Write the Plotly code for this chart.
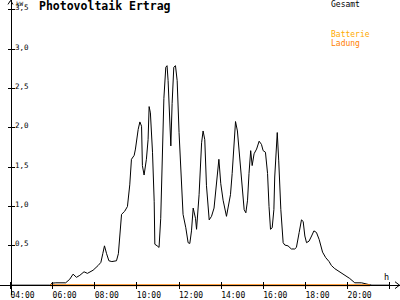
import plotly.graph_objects as go

# Gesamt (kW) over time of day (hours)
hours = [4.0, 5.87, 5.96, 6.15, 6.62, 6.81, 6.97, 7.13, 7.29, 7.49, 7.65, 7.92, 8.16, 8.29, 8.38, 8.46,
         8.56, 8.67, 8.81, 9.03, 9.12, 9.19, 9.27, 9.42, 9.55, 9.66, 9.74, 9.87, 9.93, 10.06, 10.14,
         10.22, 10.26, 10.34, 10.45, 10.53, 10.58, 10.64, 10.74, 10.82, 10.85, 10.96, 11.05, 11.13,
         11.20, 11.28, 11.37, 11.43, 11.48, 11.56, 11.61, 11.67, 11.75, 11.83, 11.91, 12.00, 12.12,
         12.19, 12.32, 12.43, 12.51, 12.59, 12.67, 12.78, 12.83, 12.95, 13.07, 13.14, 13.22, 13.30,
         13.43, 13.54, 13.66, 13.78, 13.89, 13.98, 14.09, 14.25, 14.33, 14.44, 14.52, 14.60, 14.68,
         14.77, 14.85, 14.96, 15.09, 15.17, 15.25, 15.32, 15.40, 15.47, 15.56, 15.68, 15.80, 15.91,
         15.99, 16.10, 16.20, 16.27, 16.34, 16.42, 16.50, 16.54, 16.62, 16.66, 16.73, 16.83, 16.94,
         17.02, 17.17, 17.33, 17.49, 17.57, 17.70, 17.81, 17.89, 17.97, 18.05, 18.17, 18.29, 18.40,
         18.52, 18.65, 18.81, 18.96, 19.12, 19.23, 19.39, 19.63, 19.86, 20.10, 20.34, 20.66, 20.97,
         21.15, 22.0]
gesamt = [0, 0, 0.025, 0.03, 0.03, 0.075, 0.14, 0.10, 0.125, 0.17, 0.15, 0.19, 0.25, 0.29, 0.40, 0.50,
          0.40, 0.31, 0.30, 0.31, 0.40, 0.625, 0.90, 0.94, 1.0, 1.275, 1.60, 1.65, 1.73, 1.98, 2.075,
          2.02, 1.52, 1.40, 1.60, 1.85, 2.27, 2.19, 1.69, 1.06, 0.52, 0.50, 0.48, 0.85,
          1.69, 2.375, 2.77, 2.79, 2.60, 1.94, 1.77, 2.31, 2.77, 2.79, 2.60, 1.94, 1.27,
          0.90, 0.73, 0.54, 0.53, 0.69, 0.98, 0.85, 0.71, 1.15, 1.81, 1.96, 1.85, 1.27,
          0.83, 0.875, 0.98, 1.31, 1.60, 1.29, 1.08, 0.875, 1.0, 1.15, 1.42, 1.83, 2.08,
          1.96, 1.71, 1.29, 0.96, 0.92, 1.08, 1.42, 1.71, 1.52, 1.67, 1.73, 1.83, 1.79,
          1.71, 1.69, 1.42, 1.0, 0.71, 0.73, 0.96, 1.375, 1.83, 1.94, 1.58, 0.96, 0.54,
          0.51, 0.50, 0.46, 0.46, 0.48, 0.67, 0.83, 0.81, 0.625, 0.54, 0.56, 0.625, 0.69,
          0.67, 0.58, 0.42, 0.35, 0.30, 0.25, 0.21, 0.17, 0.125, 0.085, 0.03, 0.03, 0.01,
          0, 0]

# Batterie Ladung (kW)
batt_hours = [5.875, 21.06]
batt_kw = [0, 0]

x_ticks = [4, 6, 8, 10, 12, 14, 16, 18, 20, 22]
x_ticktext = ["04:00", "06:00", "08:00", "10:00", "12:00", "14:00", "16:00", "18:00", "20:00", "22:00"]
y_ticks = [0.5, 1.0, 1.5, 2.0, 2.5, 3.0, 3.5]

W, H = 400, 300
PX_PER_H = 21.07
X0_PX = 10.5
xr = [4 - X0_PX / PX_PER_H, 4 + (W - X0_PX) / PX_PER_H]
yr = [-10 / 80, 290 / 80]
FONT = "DejaVu Sans Mono"
BLACK = "#000000"
ORANGE = "#FF8000"

fig = go.Figure()
fig.add_trace(go.Scatter(x=hours, y=gesamt, mode="lines",
                         line=dict(color=BLACK, width=1), name="Gesamt",
                         hoverinfo="skip"))
fig.add_trace(go.Scatter(x=batt_hours, y=batt_kw, mode="lines",
                         line=dict(color=ORANGE, width=2), name="Batterie Ladung",
                         xaxis="x2", yaxis="y2", hoverinfo="skip"))

ax_common = dict(showgrid=False, zeroline=False, fixedrange=True)
xpos = 1 - 290 / H
ypos = X0_PX / W

def px(x, y):
    return x / W, 1 - y / H

def path(points):
    s = ""
    for i, (x, y) in enumerate(points):
        a, b = px(x, y)
        s += ("M" if i == 0 else "L") + f"{a:.5f},{b:.5f} "
    return s.strip()

fig.update_layout(
    width=W, height=H,
    margin=dict(l=0, r=0, t=0, b=0),
    paper_bgcolor="white", plot_bgcolor="white",
    showlegend=False,
    separators=",.",
    font=dict(family=FONT, size=8, color=BLACK),
    title=dict(text="<b>Photovoltaik Ertrag</b>", x=39 / W, xanchor="left",
               y=1 - 6.5 / H, yanchor="middle", xref="paper", yref="paper",
               font=dict(family=FONT, size=11.5, color=BLACK)),
    xaxis=dict(range=xr, anchor="free", position=xpos, side="bottom",
               showline=True, linecolor=BLACK, linewidth=1,
               ticks="outside", ticklen=3, tickcolor=BLACK, tickwidth=1,
               tickvals=x_ticks, ticktext=x_ticktext, ticklabelshift=12,
               ticklabelstandoff=-1,
               tickfont=dict(family=FONT, size=8, color=BLACK), **ax_common),
    xaxis2=dict(range=xr, overlaying="x", anchor="free", position=xpos, side="top",
                showline=False, ticks="outside", ticklen=3, tickcolor=BLACK, tickwidth=1,
                tickvals=x_ticks, showticklabels=False, **ax_common),
    yaxis=dict(range=yr, anchor="free", position=ypos, side="left",
               showline=True, linecolor=BLACK, linewidth=1,
               ticks="outside", ticklen=3, tickcolor=BLACK, tickwidth=1,
               tickvals=y_ticks, showticklabels=False, **ax_common),
    yaxis2=dict(range=yr, overlaying="y", anchor="free", position=ypos, side="right",
                showline=False, ticks="outside", ticklen=3, tickcolor=BLACK, tickwidth=1,
                tickvals=y_ticks, tickformat=".1f", ticklabelshift=-2,
                ticklabelstandoff=-1,
                tickfont=dict(family=FONT, size=7.5, color=BLACK), **ax_common),
    shapes=[
        dict(type="path", path=path([(8, 4.5), (10.5, 0.5), (13, 4.5)]),
             xref="paper", yref="paper", line=dict(color=BLACK, width=1)),
        dict(type="path", path=path([(395, 286.5), (399.5, 290), (395, 293.5)]),
             xref="paper", yref="paper", line=dict(color=BLACK, width=1)),
    ],
    annotations=[
        dict(text="kW", x=15 / W, y=1.0, xref="paper", yref="paper",
             xanchor="left", yanchor="top", showarrow=False, borderpad=0, yshift=1.5,
             font=dict(family=FONT, size=6, color=BLACK)),
        dict(text="h", x=386.5 / W, y=1 - 282 / H, xref="paper", yref="paper",
             xanchor="center", yanchor="middle", showarrow=False,
             font=dict(family=FONT, size=8.5, color=BLACK)),
        dict(text="Gesamt", x=329 / W, y=1 - 4.5 / H, xref="paper", yref="paper",
             xanchor="left", yanchor="middle", showarrow=False,
             font=dict(family=FONT, size=8, color=BLACK)),
        dict(text="Batterie", x=329 / W, y=1 - 35.5 / H, xref="paper", yref="paper",
             xanchor="left", yanchor="middle", showarrow=False,
             font=dict(family=FONT, size=8, color="#FFAA00")),
        dict(text="Ladung", x=329 / W, y=1 - 44 / H, xref="paper", yref="paper",
             xanchor="left", yanchor="middle", showarrow=False,
             font=dict(family=FONT, size=8, color=ORANGE)),
    ],
)

fig.write_html("out.html")
